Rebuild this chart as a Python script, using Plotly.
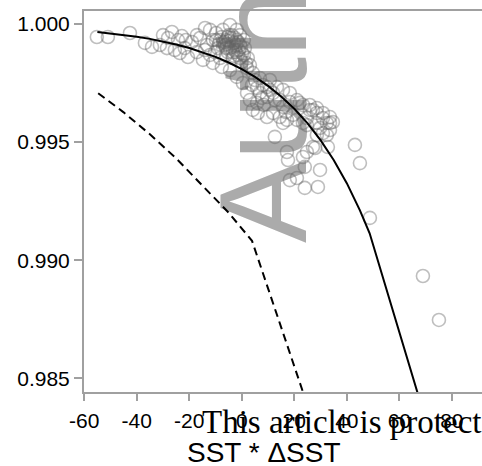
import plotly.graph_objects as go

# Observed points: SST * dSST (x) vs ratio (y)
obs_x = [-55.2, -51.0, -42.6, -36.9, -34.2, -31.2, -30.0, -28.1, -26.6, -25.5,
         -24.3, -22.8, -21.7, -20.5, -28.5, -23.6, -19.0, -17.1, -17.1, -15.9,
         -14.8, -14.0, -13.3, -12.1, -12.1, -11.0, -11.0, -9.8, -9.1, -8.3,
         -7.6, -7.2, -6.4, -6.0, -5.3, -4.5, -4.5, -4.5, -3.8, -3.4,
         -3.0, -2.6, -1.9, -1.9, -1.5, -1.9, -0.7, -0.7, 0.1, 0.1,
         0.8, 1.2, 0.4, 2.0, 2.3, -6.0, -5.3, -7.6, -2.6, -1.1,
         -10.2, -8.3, -14.0, -21.3, -5.7, -3.8, -2.2, -4.9, -3.4, -1.5,
         3.1, 4.2, 5.0, 3.1, 2.0, 5.8, 6.9, 6.9, 4.2, 6.1,
         5.8, 8.0, 9.6, 9.6, 9.6, 10.7, 11.9, 11.9, 12.6, 13.4,
         14.5, 14.5, 15.7, 15.7, 17.2, 18.3, 18.3, 19.5, 21.0, 21.0,
         12.6, 15.7, 8.4, 10.7,
         22.1, 23.3, 23.3, 25.9, 25.9, 27.1, 28.6, 28.6, 28.6, 30.9,
         30.9, 32.4, 32.4, 33.6, 33.6, 33.6, 34.7, 30.9, 28.6, 24.8,
         17.2, 17.6, 23.3, 27.1, 32.8, 29.8, 24.0, 18.3, 21.0, 24.0,
         29.0, 27.9, 24.8, 43.1, 45.0, 48.8, 69.0, 75.1,
         -6.8, -4.1, -2.2, -0.3, -6.0, -8.7, -3.0, -0.7, -4.9, 0.8,
         -9.8, 1.6, 3.9, 7.7, 16.8, 24.8, 29.8]
obs_y = [0.99945, 0.99945, 0.99962, 0.99920, 0.99903, 0.99911, 0.99953, 0.99941, 0.99966, 0.99890,
         0.99932, 0.99949, 0.99898, 0.99860, 0.99898, 0.99877, 0.99924, 0.99953, 0.99881, 0.99941,
         0.99848, 0.99983, 0.99911, 0.99975, 0.99869, 0.99932, 0.99835, 0.99962, 0.99898, 0.99932,
         0.99818, 0.99975, 0.99911, 0.99869, 0.99945, 0.99996, 0.99898, 0.99805, 0.99953, 0.99856,
         0.99920, 0.99890, 0.99975, 0.99932, 0.99869, 0.99776, 0.99911, 0.99953, 0.99877, 0.99839,
         0.99932, 0.99898, 0.99750, 0.99814, 0.99856, 0.99932, 0.99881, 0.99945, 0.99941, 0.99890,
         0.99881, 0.99856, 0.99890, 0.99932, 0.99915, 0.99903, 0.99911, 0.99928, 0.99881, 0.99924,
         0.99826, 0.99793, 0.99763, 0.99678, 0.99708, 0.99729, 0.99771, 0.99708, 0.99636, 0.99623,
         0.99666, 0.99742, 0.99691, 0.99733, 0.99606, 0.99721, 0.99708, 0.99623, 0.99678, 0.99733,
         0.99678, 0.99606, 0.99721, 0.99649, 0.99594, 0.99708, 0.99670, 0.99615, 0.99678, 0.99594,
         0.99522, 0.99581, 0.99657, 0.99763,
         0.99666, 0.99657, 0.99581, 0.99657, 0.99636, 0.99636, 0.99623, 0.99644, 0.99581, 0.99623,
         0.99602, 0.99581, 0.99530, 0.99606, 0.99581, 0.99551, 0.99585, 0.99538, 0.99530, 0.99572,
         0.99458, 0.99424, 0.99437, 0.99479, 0.99479, 0.99382, 0.99395, 0.99339, 0.99348, 0.99306,
         0.99310, 0.99475, 0.99458, 0.99488, 0.99411, 0.99179, 0.98933, 0.98747,
         0.99924, 0.99941, 0.99881, 0.99903, 0.99898, 0.99915, 0.99865, 0.99856, 0.99953, 0.99869,
         0.99932, 0.99835, 0.99742, 0.99687, 0.99627, 0.99602, 0.99560]

# Fitted curve (solid)
fit_x = [-55, -50, -45, -40, -35, -30, -25, -20, -15, -10, -5, 0, 5, 10, 15, 20,
         25, 30, 35, 40, 45, 48.7, 75.5]
fit_y = [0.99966, 0.99960, 0.99954, 0.99946, 0.99937, 0.99926, 0.99913, 0.99898,
         0.99881, 0.99861, 0.99837, 0.99809, 0.99776, 0.99738, 0.99693, 0.99641,
         0.99580, 0.99508, 0.99424, 0.99326, 0.99211, 0.99114, 0.98122]

# Second curve (dashed)
alt_x = [-54.7, -45, -35, -25, -15, -5, 3.9, 23.6, 30]
alt_y = [0.99707, 0.99626, 0.99533, 0.99431, 0.99316, 0.99201, 0.99082, 0.98432, 0.98221]

x_ticks = [-60, -40, -20, 0, 20, 40, 60, 80]
x_tick_text = ["-60", "-40", "-20", "0", "20", "40", "60", "80"]
y_ticks = [0.985, 0.990, 0.995, 1.000]
y_tick_text = ["0.985", "0.990", "0.995", "1.000"]

AX = "#a0a0a0"
FONT = "Liberation Sans, Arial, sans-serif"

fig = go.Figure()
fig.add_trace(go.Scatter(
    x=obs_x, y=obs_y, mode="markers",
    marker=dict(symbol="circle-open", size=13, color="rgba(100,100,100,0.42)",
                line=dict(width=1.6)),
    showlegend=False, hoverinfo="skip"))
fig.add_trace(go.Scatter(
    x=fit_x, y=fit_y, mode="lines",
    line=dict(color="black", width=2), showlegend=False, hoverinfo="skip"))
fig.add_trace(go.Scatter(
    x=alt_x, y=alt_y, mode="lines",
    line=dict(color="black", width=2, dash="8px,5px"), showlegend=False, hoverinfo="skip"))

L, T, B = 84, 11, 74
W, H = 482, 466
pw, ph = W - L, H - T - B

def px(xp):
    return (xp - L) / pw

def py(yp):
    return (H - B - yp) / ph

fig.update_layout(
    width=W, height=H,
    margin=dict(l=L, r=0, t=T, b=B),
    paper_bgcolor="white", plot_bgcolor="white",
    font=dict(family=FONT, color="black"),
    xaxis=dict(range=[-60.1, 91.5], tickvals=x_ticks, ticktext=x_tick_text,
               ticks="outside", ticklen=7, ticklabelstandoff=2,
               tickwidth=1.5, tickcolor=AX, showline=True, linecolor=AX, linewidth=2,
               mirror=True, showgrid=False, zeroline=False,
               tickfont=dict(size=21, family=FONT, color="black")),
    yaxis=dict(range=[0.984419, 1.000550], tickvals=y_ticks, ticktext=y_tick_text,
               ticks="outside", ticklen=8, tickwidth=1.5, tickcolor=AX, showline=True,
               linecolor=AX, linewidth=2, showgrid=False, zeroline=False,
               tickfont=dict(size=21, family=FONT, color="black")),
    shapes=[dict(type="line", xref="paper", yref="paper",
                 x0=px(320), x1=px(320), y0=py(243), y1=py(-500),
                 line=dict(color="rgba(0,0,0,0)", width=1), layer="below",
                 label=dict(text="Author Manuscript", textangle=-90, textposition="start",
                            xanchor="left", yanchor="bottom", padding=0,
                            font=dict(size=124, color="#ababab", family=FONT)))],
    annotations=[
        dict(text="SST * \u0394SST", xref="paper", yref="paper", x=px(264), y=py(452),
             xanchor="center", yanchor="middle", showarrow=False,
             font=dict(size=28, family=FONT, color="black")),
        dict(text="This article is protected by copyright. All rights reserved.",
             xref="paper", yref="paper", x=px(200), y=py(422),
             xanchor="left", yanchor="middle", showarrow=False,
             font=dict(size=33, family="Liberation Serif, Times New Roman, serif", color="black")),
    ],
)

fig.write_html("out.html")
